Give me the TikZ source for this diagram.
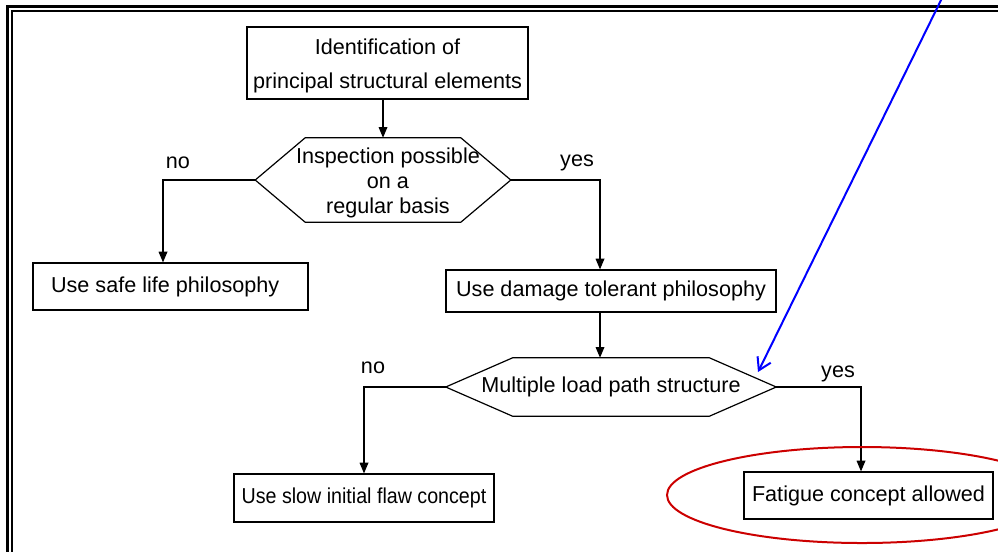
\documentclass[tikz,border=0pt]{standalone}
\usepackage{fontspec}
\setmainfont{Liberation Sans}
\usetikzlibrary{calc,arrows.meta,positioning}
\def\px{0.75pt}
\def\hexoutline(#1)(#2){\draw[line width=0.9pt] ($(#1.north west)+(#2,0)$) -- ($(#1.north east)+(-#2,0)$) -- (#1.east) -- ($(#1.south east)+(-#2,0)$) -- ($(#1.south west)+(#2,0)$) -- (#1.west) -- cycle;}

\tikzset{
	box/.style={draw, line width=0.9pt, inner sep=0pt, font=\fontsize{16.2}{19}\selectfont},
	hexnode/.style={inner sep=0pt, align=center, font=\fontsize{16.2}{18}\selectfont},
	lbl/.style={inner sep=0pt, font=\fontsize{16.2}{19}\selectfont},
	arr/.style={line width=0.9pt, -{Triangle[length=8pt,width=6.5pt]}},
}

\begin{document}
\begin{tikzpicture}[x=0.75pt, y=-0.75pt]
		%%%%% FRAME %%%%%
		\useasboundingbox (0,0) rectangle (998,551);
		\clip (0,0) rectangle (998,551);
		\fill[white] (0,0) rectangle (998,551);
		
		\draw[line width=2.2pt] (7.5,560) -- (7.5,6.5) -- (1010,6.5);
		\draw[line width=1.1pt] (12,560) -- (12,11) -- (1010,11);
		
		%%%%% NODES %%%%%
		\node[box, minimum width=281*\px, minimum height=72*\px] (ident) at (387.5,63) {};
		\node[hexnode, font=\fontsize{16.2}{25.5}\selectfont] (identtxt) at (387.5,66) {Identification of\\principal structural elements};
		
		\node[hexnode, minimum width=255*\px, minimum height=84*\px] (hex1) at (383,180) {};
		\hexoutline(hex1)(50)
		\node[hexnode, font=\fontsize{16.2}{19}\selectfont] (hex1txt) at (388,183) {Inspection possible\\on a\\regular basis};
		
		\node[box, minimum width=275*\px, minimum height=47*\px] (safe) at (170.5,286.5) {\hspace*{-8pt}Use safe life philosophy};
		\node[box, minimum width=330*\px, minimum height=42*\px] (dmg) at (611,291) {Use damage tolerant philosophy};
		
		\node[hexnode, minimum width=330*\px, minimum height=58*\px] (hex2) at (611,387) {Multiple load path structure};
		\hexoutline(hex2)(67)
		
		\node[box, minimum width=260*\px, minimum height=48*\px] (slow) at (364,498) {\scalebox{0.91}[1]{Use slow initial flaw concept}};
		\node[box, minimum width=249*\px, minimum height=47*\px] (fat) at (868.5,495.5) {Fatigue concept allowed};
		
		%%%%% LABELS %%%%%
		\node[lbl] (no1) at (178,163) {no};
		\node[lbl] (yes1) at (577,163) {yes};
		\node[lbl] (no2) at (373,368) {no};
		\node[lbl] (yes2) at (838,374) {yes};
		
		%%%%% CONNECTORS %%%%%
		\draw[arr] (hex1.north |- ident.south) -- (hex1.north);
		\draw[arr] (hex1.west) -| ($(safe.north)+(-7.5,0)$);
		\draw[arr] (hex1.east) -| ($(dmg.north)+(-11,0)$);
		\draw[arr] ($(dmg.south)+(-11,0)$) -- ($(hex2.north)+(-11,0)$);
		\draw[arr] (hex2.west) -| (slow.north);
		\draw[arr] (hex2.east) -| ($(fat.north)+(-7.5,0)$);
		
		%%%%% MARKUP %%%%%
		\coordinate (pointer) at (945,-8);
		\coordinate (tip) at (758,372);
		\draw[blue, line width=1.5pt, -{Straight Barb[length=9pt,width=11pt,line width=1.5pt]}] (pointer) -- (tip);
		
		\draw[color={rgb,255:red,204;green,0;blue,0}, line width=1.5pt] (862,495) ellipse [x radius=195, y radius=48];
		
		%%%%% END %%%%%
	\end{tikzpicture}
\end{document}
